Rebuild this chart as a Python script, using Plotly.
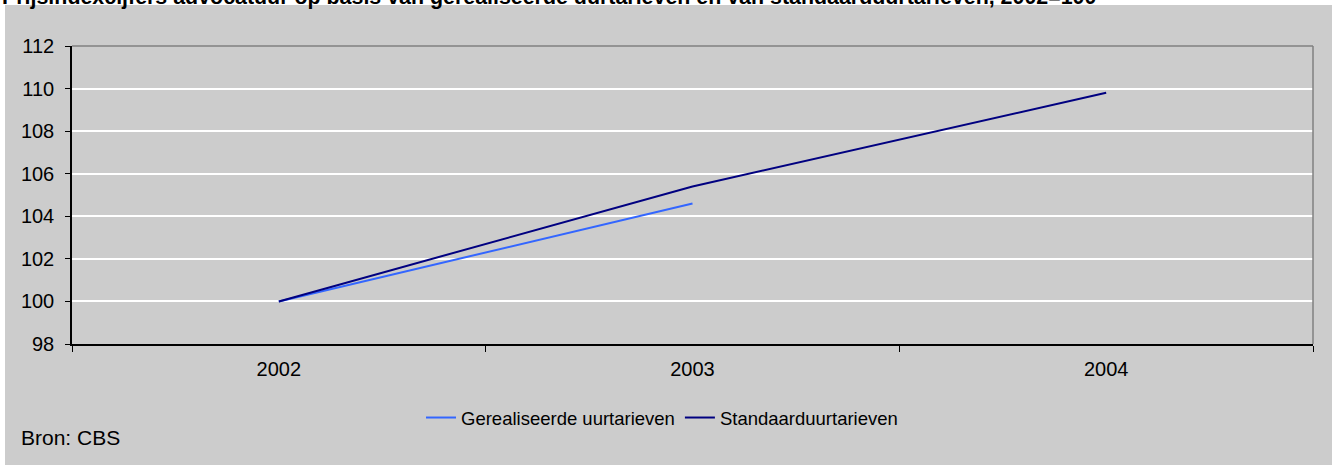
import plotly.graph_objects as go

years = ["2002", "2003", "2004"]
gerealiseerd = [100.0, 104.6, None]
standaard = [100.0, 105.4, 109.8]
y_ticks = [98, 100, 102, 104, 106, 108, 110, 112]

title_text = "Prijsindexcijfers advocatuur op basis van gerealiseerde uurtarieven en van standaarduurtarieven, 2002=100"
source_text = "Bron: CBS"

W, H = 1332, 465
L, R, T, B = 72, 19, 46, 121
pw = W - L - R
ph = H - T - B

def px(X):
    return (X - L) / pw

def py(Y):
    return (H - B - Y) / ph

FONT = "Liberation Sans, Arial, sans-serif"
GRAY = "#CCCCCC"

fig = go.Figure()
fig.add_trace(go.Scatter(x=years, y=gerealiseerd, mode="lines", name="Gerealiseerde uurtarieven",
                         line=dict(color="#3366FF", width=2), connectgaps=False))
fig.add_trace(go.Scatter(x=years, y=standaard, mode="lines", name="Standaarduurtarieven",
                         line=dict(color="#000080", width=2)))

fig.update_layout(
    width=W, height=H,
    margin=dict(l=L, r=R, t=T, b=B, pad=0),
    paper_bgcolor="white",
    plot_bgcolor=GRAY,
    font=dict(family=FONT, size=18, color="black"),
    showlegend=True,
    legend=dict(orientation="h", x=px(662), y=py(418), xanchor="center", yanchor="middle",
                bgcolor="rgba(0,0,0,0)", font=dict(size=18.5), itemwidth=30, tracegroupgap=0),
    xaxis=dict(type="category", categoryorder="array", categoryarray=years,
               range=[-0.5, 2.5], showgrid=False, tickson="boundaries",
               ticks="outside", ticklen=6, tickcolor="black", tickwidth=1,
               showline=True, linecolor="black", linewidth=1.5, ticklabelstandoff=6,
               tickfont=dict(size=20), zeroline=False, fixedrange=True),
    yaxis=dict(range=[98, 112], tickvals=y_ticks, showgrid=True, gridcolor="white", gridwidth=2,
               ticks="outside", ticklen=5, tickcolor="black", ticklabelstandoff=7,
               showline=True, linecolor="black", linewidth=1.5, zeroline=False,
               tickfont=dict(size=20), fixedrange=True),
    shapes=[
        dict(type="rect", xref="paper", yref="paper", x0=px(5), x1=px(W + 5), y0=py(H + 5), y1=py(5),
             fillcolor=GRAY, line=dict(width=0), layer="below"),
        dict(type="line", xref="paper", yref="paper", x0=0, x1=1, y0=1, y1=1,
             line=dict(color="#808080", width=1.5), layer="above"),
        dict(type="line", xref="paper", yref="paper", x0=1, x1=1, y0=0, y1=1,
             line=dict(color="#808080", width=1.5), layer="above"),
    ],
    annotations=[
        dict(text="<b>" + title_text + "</b>", xref="paper", yref="paper", x=px(0), y=py(11),
             xanchor="left", yanchor="bottom", showarrow=False, font=dict(size=21.4, color="black")),
        dict(text=source_text, xref="paper", yref="paper", x=px(19), y=py(438),
             xanchor="left", yanchor="middle", showarrow=False, font=dict(size=21, color="black")),
    ],
)

fig.write_html(
    "out.html",
    config={"displayModeBar": False},
    post_script="document.body.style.margin='0';document.body.style.padding='0';document.body.style.overflow='hidden';",
)
